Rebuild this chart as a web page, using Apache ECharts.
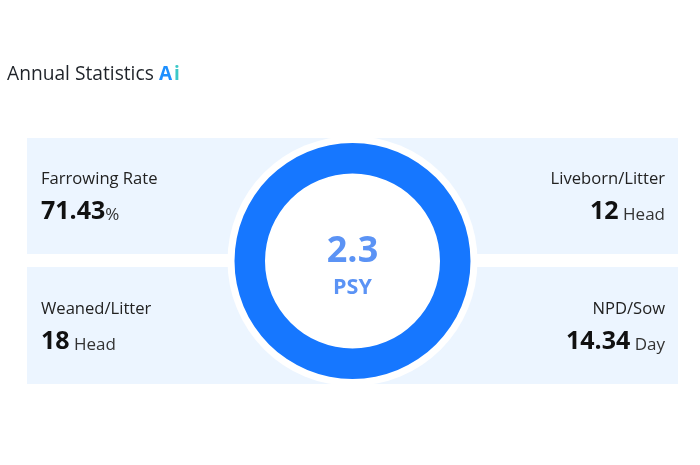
<!DOCTYPE html>
<html>
<head>
<meta charset="utf-8">
<style>html,body{margin:0;padding:0;background:#fff}#main{width:700px;height:465px}</style>
<script src="https://cdn.jsdelivr.net/npm/echarts@6/dist/echarts.min.js"></script>
</head>
<body>
<div id="main"></div>
<script>
var chartTitle = 'Annual Statistics';
var psyValue = [2.3];
var psyName = 'PSY';
var labels = ['Farrowing Rate', 'Liveborn/Litter', 'Weaned/Litter', 'NPD/Sow'];
var values = ['71.43', '12', '18', '14.34'];
var units = ['%', 'Head', 'Head', 'Day'];

var font = '"Open Sans", "Noto Sans", sans-serif';
var myChart = echarts.init(document.getElementById('main'));

// 四块背景
var panels = [
    {x: 27, y: 138, width: 651, height: 116},
    {x: 27, y: 267, width: 651, height: 117}
];
var graphics = panels.map(function (p) {
    return {type: 'rect', z: 0, shape: p, style: {fill: '#ecf5ff'}};
});

// 左右两列文字
var textX = [41, 665, 41, 665];
var labelY = [179, 179, 309, 309];
var valueY = [209, 209, 339, 339];
labels.forEach(function (name, i) {
    var align = i % 2 === 0 ? 'left' : 'right';
    graphics.push({
        type: 'text', z: 10, x: textX[i], y: labelY[i],
        style: {text: name, align: align, verticalAlign: 'middle', font: '16.6px ' + font, fill: '#222'}
    });
    graphics.push({
        type: 'text', z: 10, x: textX[i], y: valueY[i],
        style: {
            text: '{v|' + values[i] + '}{u|' + (units[i] === '%' ? '' : ' ') + units[i] + '}',
            align: align, verticalAlign: 'middle',
            rich: {
                v: {font: 'bold 25px ' + font, fill: '#111', verticalAlign: 'bottom', lineHeight: 30},
                u: {font: '17px ' + font, fill: '#333', verticalAlign: 'bottom', lineHeight: 24.5}
            }
        }
    });
});

graphics.push({
    type: 'text', z: 10, x: 7, y: 75,
    style: {text: chartTitle, verticalAlign: 'middle', font: '19.2px ' + font, fill: '#1f2329'}
});
graphics.push({
    type: 'text', z: 10, x: 159, y: 75,
    style: {
        text: '{a|A}{i|i}', verticalAlign: 'middle',
        rich: {
            a: {font: 'bold 19px ' + font, fill: '#1e90ff'},
            i: {font: 'bold 19px ' + font, fill: '#3cc8c8', padding: [0, 0, 0, 2]}
        }
    }
});

var option = {
    animation: false,
    graphic: graphics,
    series: [
        {   // 白色外圈
            type: 'pie', silent: true, z: 2,
            center: [352.5, 261], radius: [0, 125],
            label: {show: false}, labelLine: {show: false},
            itemStyle: {color: '#fff'},
            data: psyValue
        },
        {
            type: 'pie', silent: true, z: 3,
            center: [352.5, 261], radius: [87.5, 118],
            itemStyle: {color: '#1677ff'},
            labelLine: {show: false},
            label: {
                show: true, position: 'center',
                formatter: '{a|{c}}\n{b|' + psyName + '}',
                padding: [12, 0, 0, 0],
                rich: {
                    a: {fontFamily: 'Open Sans', fontWeight: 'bold', fontSize: 36, color: '#5b93f5', lineHeight: 42},
                    b: {fontFamily: 'Open Sans', fontWeight: 'bold', fontSize: 21.5, color: '#5b93f5', lineHeight: 30}
                }
            },
            data: psyValue
        }
    ]
};
myChart.setOption(option);
</script>
</body>
</html>
